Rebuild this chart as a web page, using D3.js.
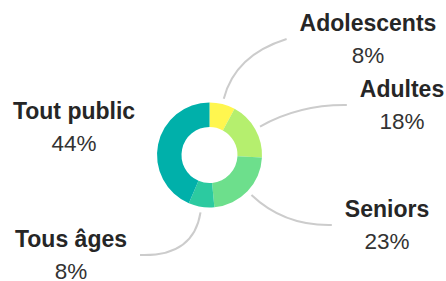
<!DOCTYPE html>
<html>
<head>
<meta charset="utf-8">
<script src="https://cdn.jsdelivr.net/npm/d3@7"></script>
<style>
  body { margin: 0; background: #fff; }
  text { font-family: "Liberation Sans", Arial, sans-serif; fill: #262626; }
</style>
</head>
<body>
<div id="chart"></div>
<script>
// data
const categories = ["Adolescents", "Adultes", "Seniors", "Tous âges", "Tout public"];
const values = [8, 18, 23, 8, 44];
const colors = ["#fff64f", "#b5ef6e", "#6ddf8c", "#2ccaa0", "#00b0aa"];

// label layout (center x, title baseline y, side of the leader line)
const labelPos = [
  {x: 368, y: 31, side: "left"},
  {x: 402, y: 97, side: "left"},
  {x: 387, y: 217, side: "left"},
  {x: 71, y: 247, side: "right"},
  {x: 74, y: 119, side: null}
];

const dims = {width: 446, height: 281, outer: 52.5, inner: 28};
const cent = {x: 209.5, y: 155};

const svg = d3.select("#chart")
  .append("svg")
  .attr("width", dims.width)
  .attr("height", dims.height);

const graph = svg.append("g")
  .attr("transform", `translate(${cent.x}, ${cent.y})`);

const data = categories.map((c, i) => ({name: c, value: values[i]}));

const pie = d3.pie().sort(null).value(d => d.value);
const arcPath = d3.arc().outerRadius(dims.outer).innerRadius(dims.inner);

const color = d3.scaleOrdinal(colors).domain(categories);

const arcs = pie(data);

graph.selectAll("path.arc")
  .data(arcs)
  .enter()
  .append("path")
  .attr("class", "arc")
  .attr("fill", d => color(d.data.name))
  .attr("d", arcPath);

// labels
const labels = svg.append("g").attr("class", "labels");

const lab = labels.selectAll("g")
  .data(arcs)
  .enter()
  .append("g");

lab.append("text")
  .attr("class", "title")
  .attr("x", (d, i) => labelPos[i].x)
  .attr("y", (d, i) => labelPos[i].y)
  .attr("text-anchor", "middle")
  .style("font-size", "23px")
  .style("font-weight", "bold")
  .text(d => d.data.name);

lab.append("text")
  .attr("x", (d, i) => labelPos[i].x)
  .attr("y", (d, i) => labelPos[i].y + 32)
  .attr("text-anchor", "middle")
  .style("font-size", "22.5px")
  .style("fill", "#333")
  .text(d => `${d.data.value}%`);

// leader lines
const polar = (a, r) => [Math.sin(a) * r, -Math.cos(a) * r];

lab.each(function(d, i) {
  const p = labelPos[i];
  if (!p.side) return;
  const w = d3.select(this).select(".title").node().getComputedTextLength();
  const mid = (d.startAngle + d.endAngle) / 2;
  const s = polar(mid, 58);
  const c = polar(mid, 103);
  const ex = (p.side === "left" ? p.x - w / 2 - 13 : p.x + w / 2 + 13) - cent.x;
  const ey = p.y + 8 - cent.y;
  const path = d3.path();
  path.moveTo(s[0], s[1]);
  path.quadraticCurveTo(c[0], c[1], ex, ey);
  graph.append("path")
    .attr("d", path.toString())
    .attr("fill", "none")
    .attr("stroke", "#ccc")
    .attr("stroke-width", 2);
});
</script>
</body>
</html>
